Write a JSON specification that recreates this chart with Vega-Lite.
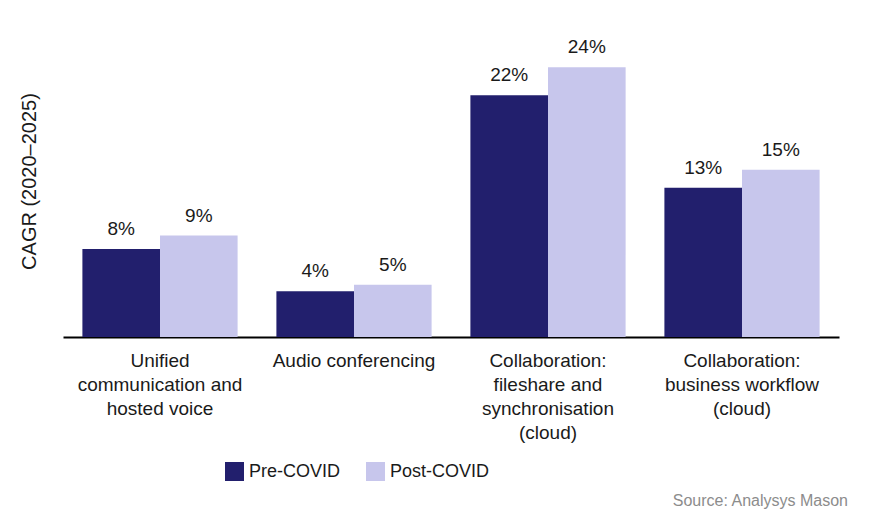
{
  "$schema": "https://vega.github.io/schema/vega-lite/v6.json",
  "width": 776,
  "height": 312,
  "autosize": "none",
  "padding": {"left": 63, "top": 25, "right": 41, "bottom": 175},
  "background": "white",
  "config": {"view": {"stroke": null}, "font": "Liberation Sans"},
  "title": {
    "text": "Source: Analysys Mason",
    "orient": "bottom",
    "anchor": "end",
    "frame": "group",
    "baseline": "middle",
    "offset": 20,
    "dx": 9,
    "fontSize": 16,
    "fontWeight": "normal",
    "color": "#8c8c8c",
    "font": "Liberation Sans"
  },
  "data": {
    "values": [
      {"category": "Unified communication and hosted voice", "series": "Pre-COVID", "value": 0.079},
      {"category": "Unified communication and hosted voice", "series": "Post-COVID", "value": 0.091},
      {"category": "Audio conferencing", "series": "Pre-COVID", "value": 0.041},
      {"category": "Audio conferencing", "series": "Post-COVID", "value": 0.047},
      {"category": "Collaboration: fileshare and synchronisation (cloud)", "series": "Pre-COVID", "value": 0.217},
      {"category": "Collaboration: fileshare and synchronisation (cloud)", "series": "Post-COVID", "value": 0.242},
      {"category": "Collaboration: business workflow (cloud)", "series": "Pre-COVID", "value": 0.134},
      {"category": "Collaboration: business workflow (cloud)", "series": "Post-COVID", "value": 0.150}
    ]
  },
  "encoding": {
    "x": {
      "field": "category",
      "type": "nominal",
      "sort": null,
      "scale": {"paddingInner": 0.2, "paddingOuter": 0.1},
      "axis": {
        "title": null,
        "labelAngle": 0,
        "ticks": false,
        "domainColor": "#000000",
        "domainWidth": 2,
        "labelFontSize": 19,
        "labelColor": "#1a1a1a",
        "labelPadding": 14,
        "labelLineHeight": 24,
        "labelBaseline": "top",
        "labelLimit": 300,
        "labelExpr": "datum.value == 'Unified communication and hosted voice' ? ['Unified', 'communication and', 'hosted voice'] : datum.value == 'Collaboration: fileshare and synchronisation (cloud)' ? ['Collaboration:', 'fileshare and', 'synchronisation', '(cloud)'] : datum.value == 'Collaboration: business workflow (cloud)' ? ['Collaboration:', 'business workflow', '(cloud)'] : datum.value"
      }
    },
    "xOffset": {"field": "series", "type": "nominal", "sort": ["Pre-COVID", "Post-COVID"], "scale": {"paddingInner": 0}},
    "y": {
      "field": "value",
      "type": "quantitative",
      "scale": {"domain": [0, 0.28], "nice": false},
      "axis": {
        "title": "CAGR (2020–2025)",
        "titleFontSize": 20,
        "titleFontWeight": "normal",
        "titleColor": "#1a1a1a",
        "titleX": -34,
        "titleY": 156,
        "titleBaseline": "middle",
        "titleAngle": -90,
        "domain": false,
        "ticks": false,
        "labels": false,
        "grid": false
      }
    }
  },
  "layer": [
    {
      "mark": {"type": "bar"},
      "encoding": {
        "color": {
          "field": "series",
          "type": "nominal",
          "scale": {"domain": ["Pre-COVID", "Post-COVID"], "range": ["#221f6d", "#c7c6ec"]},
          "legend": {
            "title": null,
            "orient": "none",
            "direction": "horizontal",
            "legendX": 162,
            "legendY": 437,
            "symbolType": "square",
            "symbolSize": 361,
            "symbolStrokeWidth": 0,
            "symbolOpacity": 1,
            "labelFontSize": 18,
            "labelColor": "#1a1a1a",
            "labelOffset": 5,
            "columnPadding": 25
          }
        }
      }
    },
    {
      "mark": {"type": "text", "dy": -14, "baseline": "alphabetic", "fontSize": 19, "color": "#1a1a1a"},
      "encoding": {
        "text": {"field": "value", "type": "quantitative", "format": ".0%"}
      }
    }
  ]
}
